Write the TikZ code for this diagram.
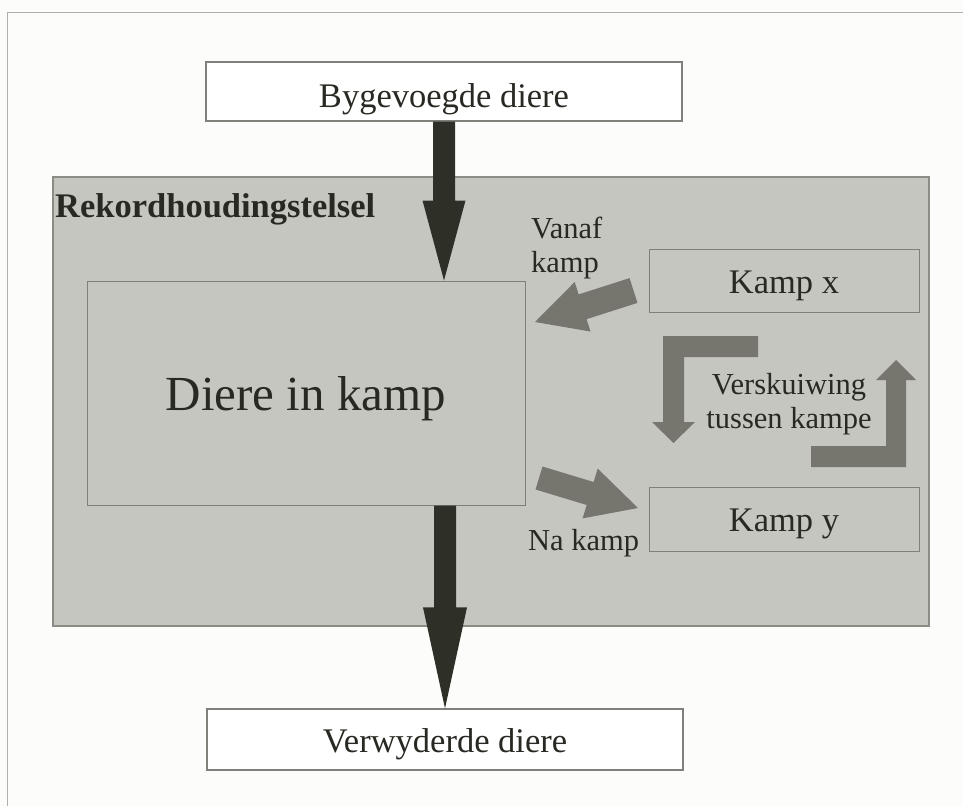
\documentclass[tikz,border=0pt]{standalone}
\usepackage{fontspec}
\setmainfont{Liberation Serif}
\usetikzlibrary{calc}

\definecolor{ink}{RGB}{40,41,34}
\definecolor{paper}{RGB}{252,252,250}
\definecolor{framegray}{RGB}{175,175,172}
\definecolor{panelfill}{RGB}{198,198,192}
\definecolor{panelline}{RGB}{140,140,134}
\definecolor{boxline}{RGB}{128,128,122}
\definecolor{darkarrow}{RGB}{46,48,40}
\definecolor{grayarrow}{RGB}{118,118,110}

% Filled block arrow from a tail point to a tip point.
% #1 style, #2 tail, #3 tip, #4 half shaft width, #5 half head width, #6 head length
\newcommand\blockarrow[6]{%
  \path ($(#3)!#6!(#2)$) coordinate (ba-base);
  \fill[#1] ($(#2)!#4!90:(#3)$) -- ($(ba-base)!#4!90:(#3)$)
    -- ($(ba-base)!#5!90:(#3)$) -- (#3)
    -- ($(ba-base)!#5!-90:(#3)$) -- ($(ba-base)!#4!-90:(#3)$)
    -- ($(#2)!#4!-90:(#3)$) -- cycle;
}

\begin{document}
\begin{tikzpicture}[x=1pt,y=-1pt,
  every node/.style={text=ink, inner sep=0pt},
  whitebox/.style={draw=boxline, line width=1.2pt, fill=white},
  panelbox/.style={draw=boxline, line width=1pt, fill=panelfill},
  bigtext/.style={font=\fontsize{34.5}{40}\selectfont},
  smalltext/.style={font=\fontsize{30.5}{34}\selectfont},
  % baseline sits #1/2 below the box centre
  lowtext/.style={text height=#1, text depth=0pt},
]
% page and outer frame
\fill[paper] (0,0) rectangle (963,806);
\useasboundingbox (0,0) rectangle (963,806);
\draw[framegray, line width=1.5pt] (7.7,806) -- (7.7,12.7) -- (963,12.7);

% record keeping system panel
\node[draw=panelline, line width=1.5pt, fill=panelfill,
      minimum width=876pt, minimum height=449pt] (sys) at (491,401.5) {};
\node[font=\bfseries\fontsize{34.5}{40}\selectfont, anchor=base west]
      (syslabel) at (55,217) {Rekordhoudingstelsel};

% boxes
\node[whitebox, bigtext, lowtext=31pt, minimum width=476pt, minimum height=59pt]
      (added) at (444,91.5) {Bygevoegde diere};
\node[whitebox, bigtext, lowtext=25pt, minimum width=476pt, minimum height=61pt]
      (removed) at (445,739.5) {Verwyderde diere};
\node[panelbox, font=\fontsize{49}{56}\selectfont, lowtext=34pt,
      minimum width=438pt, minimum height=224pt]
      (camp) at (306,393) {Diere in kamp};
\node[panelbox, bigtext, lowtext=25pt, minimum width=270pt, minimum height=63pt]
      (kx) at (784,280.5) {Kamp x};
\node[panelbox, bigtext, lowtext=24pt, minimum width=270pt, minimum height=64pt]
      (ky) at (784,519) {Kamp y};

% flows in and out of the system
\blockarrow{darkarrow}{added.south}{added.south |- camp.north}{11pt}{21.5pt}{80pt}
\blockarrow{darkarrow}{removed.north |- camp.south}{removed.north}{11pt}{22pt}{101pt}

% flows between camps
\coordinate (fromx-tail) at (633.5,290.5);
\coordinate (fromx-tip) at (535,322);
\blockarrow{grayarrow}{fromx-tail}{fromx-tip}{13pt}{26pt}{50pt}
\coordinate (toy-tail) at (539,478);
\coordinate (toy-tip) at (638,508);
\blockarrow{grayarrow}{toy-tail}{toy-tip}{12pt}{26pt}{50pt}

% shifting between camps
\fill[grayarrow] (758,336) -- (663,336) -- (663,422) -- (652,422)
  -- (673.5,443) -- (695,422) -- (684,422) -- (684,357) -- (758,357) -- cycle;
\fill[grayarrow] (811,467) -- (906,467) -- (906,380) -- (916,380)
  -- (896,360) -- (876,380) -- (886,380) -- (886,446) -- (811,446) -- cycle;

% labels (anchored on the baseline of the last line)
\node[smalltext, align=left, anchor=base west] (fromlabel) at (531,272)
      {Vanaf\\kamp};
\node[smalltext, anchor=base west] (tolabel) at (528,550) {Na kamp};
\node[smalltext, align=center, anchor=base] (shiftlabel) at (789,428)
      {Verskuiwing\\tussen kampe};
\end{tikzpicture}
\end{document}
